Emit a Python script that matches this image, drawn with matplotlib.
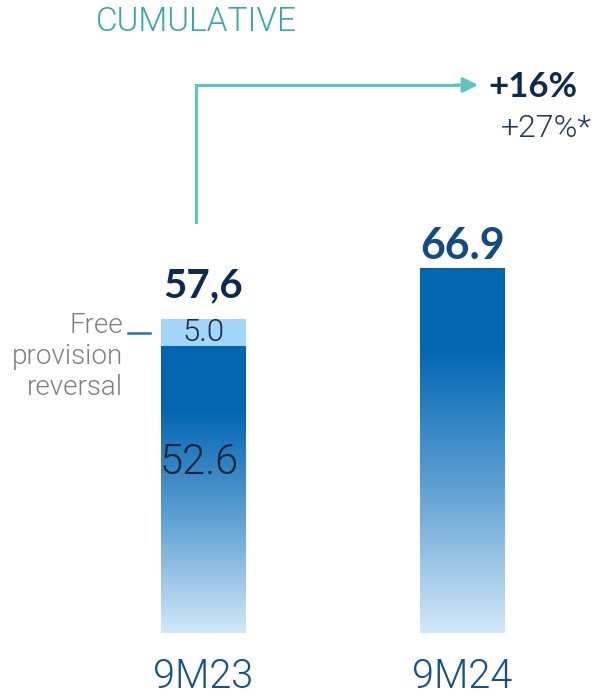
import numpy as np
import matplotlib.pyplot as plt
from matplotlib.colors import LinearSegmentedColormap
from matplotlib.patches import Rectangle

# Data
periods = ["9M23", "9M24"]
base_values = [52.6, 66.9]
reversal_values = [5.0, 0.0]
total_labels = ["57,6", "66.9"]
growth_main = "+16%"
growth_alt = "+27%*"

W, H = 598, 697
fig = plt.figure(figsize=(W / 100, H / 100), dpi=100)

# axes: value 0 sits at 633 px from top, 5.456 px per unit
px_per_unit = 5.456
ax = fig.add_axes([0, 64 / H, 1, (H - 64) / H])
ax.set_ylim(0, (H - 64) / px_per_unit)
ax.set_xlim(-203.5 / 259, 1 + (W - 462.5) / 259)
ax.axis("off")

bar_w = 85 / 259
xs = np.arange(len(periods))

grad_cmap = LinearSegmentedColormap.from_list(
    "bars", [(0.0, "#0066b2"), (0.22, "#0066b2"), (0.6, "#5fa0d3"), (1.0, "#d2e8f8")])
grad = np.linspace(0, 1, 256).reshape(-1, 1)

for x, v, r in zip(xs, base_values, reversal_values):
    left = x - bar_w / 2
    im = ax.imshow(grad, cmap=grad_cmap, aspect="auto",
                   extent=[left, left + bar_w, 0, v], origin="upper", zorder=2)
    clip = Rectangle((left, 0), bar_w, v, transform=ax.transData)
    im.set_clip_path(clip)
    if r > 0:
        ax.bar(x, r, bar_w, bottom=v, color="#a0d6fa", zorder=2)

thin = dict(family="Roboto", fontweight=300)

# totals
ax.text(xs[0], base_values[0] + reversal_values[0] + 6.0, total_labels[0],
        ha="center", va="center", fontsize=29, fontweight="bold",
        color="#0d2b52", family="Lato")
ax.text(xs[1], base_values[1] + 4.0, total_labels[1], ha="center", va="center",
        fontsize=31, fontweight="bold", color="#124a86", family="Lato")

# inner labels
ax.text(xs[0], base_values[0] + reversal_values[0] / 2, "5.0", ha="center",
        va="center", fontsize=22.5, color="#1b2b40", **thin)
ax.text(xs[0] - 0.015, 31.3, "52.6", ha="center", va="center", fontsize=30,
        color="#1b2230", **thin)

# side note
ax.text(-0.31, 50.7, "Free\nprovision\nreversal", ha="right", va="center",
        fontsize=20, color="#808080", linespacing=1.2, **thin)
ax.plot([-0.29, -0.205], [55.0, 55.0], color="#1a73bf", lw=1.8)

# x labels
for x, p in zip(xs, periods):
    ax.text(x, -8, p, ha="center", va="center", fontsize=28.5, color="#13508f",
            clip_on=False, **thin)

# growth arrow
arrow_col = "#5cc5c0"
y_top = (633 - 85) / px_per_unit
ax.plot([-0.03, -0.03, 0.98], [(633 - 222) / px_per_unit, y_top, y_top],
        color=arrow_col, lw=2.2, solid_joinstyle="miter")
ax.annotate("", xy=(1.06, y_top), xytext=(0.97, y_top),
            arrowprops=dict(arrowstyle="-|>,head_length=0.9,head_width=0.45",
                            color=arrow_col, lw=2.2, shrinkA=0, shrinkB=0))
ax.text(1.1, y_top - 0.3, growth_main, ha="left", va="center", fontsize=25,
        fontweight="bold", color="#0d2b52", family="Lato")
ax.text(1.5, y_top - 8.0, growth_alt, ha="right", va="center", fontsize=23,
        color="#1f3a5a", **thin)

fig.text(96 / W, 1 - 22 / H, "CUMULATIVE", ha="left", va="center", fontsize=24,
         color="#35a9a5", **thin)

fig.savefig("out.png", dpi=100)
